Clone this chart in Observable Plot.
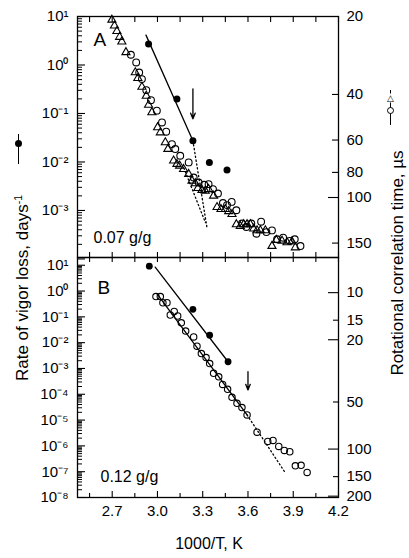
<!DOCTYPE html>
<html><head><meta charset="utf-8">
<script src="https://cdn.jsdelivr.net/npm/d3@7"></script>
<script src="https://cdn.jsdelivr.net/npm/@observablehq/plot@0.6"></script>
<style>
body{margin:0;background:#fff;}
#wrap{position:relative;width:409px;height:558px;font-family:"Liberation Sans",Arial,sans-serif;color:#000;overflow:hidden;}
#wrap .pl{position:absolute;left:0;}
.lab{position:absolute;white-space:nowrap;font-size:17px;line-height:1;}
.lab sup{font-size:0.62em;vertical-align:0.55em;}
</style></head><body><div id="wrap"></div>
<script>
// ---- axis ticks ----
const xTicksMajor = [2.7, 3.0, 3.3, 3.6, 3.9, 4.2];
const xTicksMinor = [2.55, 2.85, 3.15, 3.45, 3.75, 4.05];
const decadesA = [1e-4, 1e-3, 1e-2, 1e-1, 1, 10];
const labelDecadesA = [1e-3, 1e-2, 1e-1, 1, 10];
const decadesB = [1e-8, 1e-7, 1e-6, 1e-5, 1e-4, 1e-3, 1e-2, 1e-1, 1, 10];
const tauLabelsA = [20, 40, 60, 80, 100, 150];
const tauLongA = [100];
const tauShortA = [40, 60, 80, 150];
const tauLabelsB = [10, 15, 20, 50, 100, 150, 200];
const tauLongB = [10, 20, 100, 200];
const tauShortB = [15, 50, 150];

// ---- Panel A (0.07 g/g) ----
const vigorA_x = [2.941, 3.129, 3.235, 3.344, 3.461];
const vigorA_rate = [2.7, 0.198, 0.0274, 0.0098, 0.0068];
const vigorFitA_x = [2.924, 3.235];
const vigorFitA_rate = [4.13, 0.0274];
const vigorDotA_x = [3.235, 3.328];
const vigorDotA_rate = [0.0274, 0.000447];
const triA_x = [2.698,2.715,2.731,2.749,2.764,2.791,2.853,2.870,2.897,2.926,2.941,2.963,3.001,3.019,3.052,3.069,3.107,3.129,3.147,3.173,3.207,3.229,3.251,3.268,3.295,3.317,3.339,3.372,3.395,3.421,3.450,3.472,3.494,3.523,3.549,3.572,3.594,3.616,3.638,3.660,3.682,3.715,3.759,3.788,3.826,3.859,3.892,3.914];
const triA_tau = [20.6,21.7,22.8,24.0,25.0,27.5,32.9,34.6,37.4,40.5,43.9,46.9,53.6,56.1,61.3,65.0,72.1,74.3,75.4,77.7,81.2,86.2,88.2,92.0,93.6,94.2,92.8,98.5,109,111,111,113,116,127,129,127,127,127,132,134,134,134,154,146,147,149,148,156];
const circA_x = [2.824,2.859,2.879,2.897,2.926,2.957,2.996,3.030,3.058,3.096,3.118,3.151,3.207,3.240,3.273,3.310,3.339,3.368,3.401,3.434,3.461,3.492,3.523,3.560,3.589,3.622,3.656,3.687,3.722,3.759,3.793,3.833,3.877,3.910,3.948];
const circA_tau = [28.1,30.1,32.9,34.9,38.5,42.1,46.2,51.3,55.7,62.2,65.0,69.0,73.2,83.7,87.5,89.3,88.8,92.8,96.5,105,107,104,112,126,130,126,138,124,136,134,145,143,147,145,154];
const tauDotA_x = [3.175, 3.318];
const tauDotA_tau = [77, 125];
const arrowA_x = [3.235];
const arrowA_from = [0.323];
const arrowA_to = [0.0778];

// ---- Panel B (0.12 g/g) ----
const vigorB_x = [2.946, 3.235, 3.346, 3.468];
const vigorB_rate = [9.2, 0.196, 0.0195, 0.00182];
const vigorFitB_x = [2.985, 3.468];
const vigorFitB_rate = [8.45, 0.00182];
const circB_x = [2.990,3.019,3.036,3.063,3.085,3.111,3.134,3.158,3.187,3.240,3.262,3.291,3.322,3.346,3.372,3.406,3.432,3.465,3.494,3.527,3.560,3.594,3.660,3.731,3.766,3.804,3.841,3.877,3.914,3.952,3.992];
const circB_tau = [10.6,10.6,11.6,11.6,13.9,13.2,14.1,15.6,17.6,19.2,22.0,24.5,26.0,28.4,32.8,34.5,38.6,41.5,46.7,51.0,54.3,60.5,78.0,89.4,88.1,96.2,102,104,128,127,141];
const tauFitB_x = [2.996, 3.594];
const tauFitB_tau = [10.15, 60.5];
const tauDotB_x = [3.594, 3.848];
const tauDotB_tau = [60.5, 142];
const arrowB_x = [3.600];
const arrowB_from = [7.46e-4];
const arrowB_to = [1.47e-4];

// ---- layout ----
const W = 409, ML = 77, MR = 71, FW = W - ML - MR;
const xDomain = [2.47, 4.2];
const xAll = [...xTicksMajor, ...xTicksMinor];
const SUP = "⁻⁰¹²³⁴⁵⁶⁷⁸⁹", SRC = "-0123456789";
const sup = s => String(s).replace(/[-0-9]/g, c => SUP[SRC.indexOf(c)]);
const fmtDecade = d => "10" + sup(Math.round(Math.log10(d)));
const minorsOf = (decs, lo, hi) => decs.flatMap(p => [2,3,4,5,6,7,8,9].map(m => m * p)).filter(v => v >= lo && v <= hi);
const pts = (xs, ys, f = v => v) => xs.map((x, i) => ({x, y: f(ys[i])}));
const styleObj = {overflow: "visible", background: "transparent", fontFamily: "Liberation Sans, Arial, sans-serif", fontSize: "15px", color: "black"};
const dotted = {stroke: "black", strokeWidth: 1.3, strokeDasharray: "1.3,2.6"};

// twin-axis alignment: correlation time -> position on the left (rate) scale
const kA = 259 / 48.5;
const yA = t => Math.pow(10, 1 - kA * Math.log10(t / 20));
const kB = 157 / 25.9;
const yB = t => Math.pow(10, -0.062 - kB * Math.log10(t / 10));
const tauRows = (ts, f) => ts.map(t => ({y: f(t), label: String(t)}));

const wrap = document.getElementById("wrap");

// Panel A
const hA = 258, mtA = 16, mbA = 1, FHA = hA - mtA - mbA;
const yDomA = [Math.pow(10, -3.97), 10];
const plotA = Plot.plot({
  width: W, height: hA, marginLeft: ML, marginRight: MR, marginTop: mtA, marginBottom: mbA,
  style: styleObj,
  x: {domain: xDomain, axis: null},
  y: {type: "log", domain: yDomA},
  marks: [
    Plot.frame({stroke: "black", strokeWidth: 1.3}),
    Plot.tickY(decadesA, {insetRight: FW - 8, strokeWidth: 1.1}),
    Plot.tickY(minorsOf(decadesA, yDomA[0], yDomA[1]), {insetRight: FW - 5}),
    Plot.axisY(labelDecadesA, {anchor: "left", tickSize: 0, tickPadding: 9, tickFormat: fmtDecade, fontSize: 15, label: null}),
    Plot.tickY(tauRows(tauLongA, yA), {y: "y", insetLeft: FW - 10, strokeWidth: 1.1}),
    Plot.tickY(tauRows(tauShortA, yA), {y: "y", insetLeft: FW - 6, strokeWidth: 1.1}),
    Plot.text(tauRows(tauLabelsA, yA), {y: "y", text: "label", frameAnchor: "right", textAnchor: "start", dx: 8, fontSize: 15}),
    Plot.tickX(xAll, {insetBottom: FHA - 6, strokeWidth: 1.1}),
    Plot.tickX(xAll, {insetTop: FHA - 5, strokeWidth: 1.1}),
    Plot.line(pts(vigorFitA_x, vigorFitA_rate), {x: "x", y: "y", stroke: "black", strokeWidth: 1.3}),
    Plot.line(pts(vigorDotA_x, vigorDotA_rate), {x: "x", y: "y", ...dotted}),
    Plot.line(pts(tauDotA_x, tauDotA_tau, yA), {x: "x", y: "y", ...dotted}),
    Plot.dot(pts(triA_x, triA_tau, yA), {x: "x", y: "y", symbol: "triangle", r: 3, stroke: "black", strokeWidth: 1.1, fill: "none"}),
    Plot.dot(pts(circA_x, circA_tau, yA), {x: "x", y: "y", r: 3.4, stroke: "black", strokeWidth: 1.1, fill: "none"}),
    Plot.dot(pts(vigorA_x, vigorA_rate), {x: "x", y: "y", r: 3.5, fill: "black"}),
    Plot.arrow(arrowA_x.map((x, i) => ({x, y1: arrowA_from[i], y2: arrowA_to[i]})), {x: "x", y1: "y1", y2: "y2", stroke: "black", strokeWidth: 1.3, headLength: 7, headAngle: 44}),
    Plot.text(["A"], {frameAnchor: "top-left", dx: 16, dy: 23, lineAnchor: "middle", textAnchor: "start", fontSize: 19}),
    Plot.text(["0.07 g/g"], {frameAnchor: "bottom-left", dx: 16, dy: -20, lineAnchor: "middle", textAnchor: "start", fontSize: 16})
  ]
});
plotA.classList.add("pl"); plotA.style.top = "0px";
wrap.appendChild(plotA);

// Panel B
const hB = 301, mtB = 0, mbB = 61, FHB = hB - mtB - mbB;
const yDomB = [1e-8, Math.pow(10, 1.3)];
const plotB = Plot.plot({
  width: W, height: hB, marginLeft: ML, marginRight: MR, marginTop: mtB, marginBottom: mbB,
  style: styleObj,
  x: {domain: xDomain},
  y: {type: "log", domain: yDomB},
  marks: [
    Plot.frame({stroke: "black", strokeWidth: 1.3}),
    Plot.tickY(decadesB, {insetRight: FW - 8, strokeWidth: 1.1}),
    Plot.tickY(minorsOf(decadesB, yDomB[0], yDomB[1]), {insetRight: FW - 5}),
    Plot.axisY(decadesB, {anchor: "left", tickSize: 0, tickPadding: 9, tickFormat: fmtDecade, fontSize: 15, label: null}),
    Plot.tickY(tauRows(tauLongB, yB), {y: "y", insetLeft: FW - 10, strokeWidth: 1.1}),
    Plot.tickY(tauRows(tauShortB, yB), {y: "y", insetLeft: FW - 5, strokeWidth: 1.1}),
    Plot.text(tauRows(tauLabelsB, yB), {y: "y", text: "label", frameAnchor: "right", textAnchor: "start", dx: 8, fontSize: 15}),
    Plot.tickX(xAll, {insetBottom: FHB - 5, strokeWidth: 1.1}),
    Plot.tickX(xTicksMajor, {insetTop: FHB - 6, strokeWidth: 1.1}),
    Plot.tickX(xTicksMinor, {insetTop: FHB - 4, strokeWidth: 1.1}),
    Plot.axisX(xTicksMajor, {anchor: "bottom", tickSize: 0, tickPadding: 8, tickFormat: d => d.toFixed(1), fontSize: 15, label: null}),
    Plot.line(pts(vigorFitB_x, vigorFitB_rate), {x: "x", y: "y", stroke: "black", strokeWidth: 1.3}),
    Plot.line(pts(tauFitB_x, tauFitB_tau, yB), {x: "x", y: "y", stroke: "black", strokeWidth: 1.3}),
    Plot.line(pts(tauDotB_x, tauDotB_tau, yB), {x: "x", y: "y", ...dotted}),
    Plot.dot(pts(circB_x, circB_tau, yB), {x: "x", y: "y", r: 3.2, stroke: "black", strokeWidth: 1.1, fill: "none"}),
    Plot.dot(pts(vigorB_x, vigorB_rate), {x: "x", y: "y", r: 3.4, fill: "black"}),
    Plot.arrow(arrowB_x.map((x, i) => ({x, y1: arrowB_from[i], y2: arrowB_to[i]})), {x: "x", y1: "y1", y2: "y2", stroke: "black", strokeWidth: 1.3, headLength: 7, headAngle: 44}),
    Plot.text(["B"], {frameAnchor: "top-left", dx: 20, dy: 30, lineAnchor: "middle", textAnchor: "start", fontSize: 19}),
    Plot.text(["0.12 g/g"], {frameAnchor: "bottom-left", dx: 23, dy: -21, lineAnchor: "middle", textAnchor: "start", fontSize: 16})
  ]
});
plotB.classList.add("pl"); plotB.style.top = "257px";
wrap.appendChild(plotB);

// titles and legend glyphs
function addLab(html, css) {
  const d = document.createElement("div");
  d.className = "lab"; d.innerHTML = html; Object.assign(d.style, css);
  wrap.appendChild(d); return d;
}
addLab("1000/T, K", {left: "209px", top: "544px", transform: "translate(-50%,-50%)", fontSize: "16px"});
addLab("Rate of vigor loss, days<sup>-1</sup>", {left: "22px", top: "288px", transform: "translate(-50%,-50%) rotate(-90deg)", fontSize: "17px"});
addLab("Rotational correlation time, µs", {left: "397px", top: "263px", transform: "translate(-50%,-50%) rotate(-90deg)", fontSize: "17px"});
// left glyph: filled circle on a vertical bar
addLab("", {left: "17.5px", top: "134px", width: "1.5px", height: "30px", background: "#000"});
addLab("", {left: "14.5px", top: "139.5px", width: "7.5px", height: "7.5px", borderRadius: "50%", background: "#000"});
// right glyph: triangle and open circle on a vertical bar
addLab("", {left: "389.5px", top: "90px", width: "1.3px", height: "35px", background: "#000"});
addLab("△", {left: "390px", top: "98px", transform: "translate(-50%,-50%)", fontSize: "9px", background: "#fff"});
addLab("", {left: "386.5px", top: "106.5px", width: "5px", height: "5px", borderRadius: "50%", border: "1px solid #000", background: "#fff"});
</script></body></html>
